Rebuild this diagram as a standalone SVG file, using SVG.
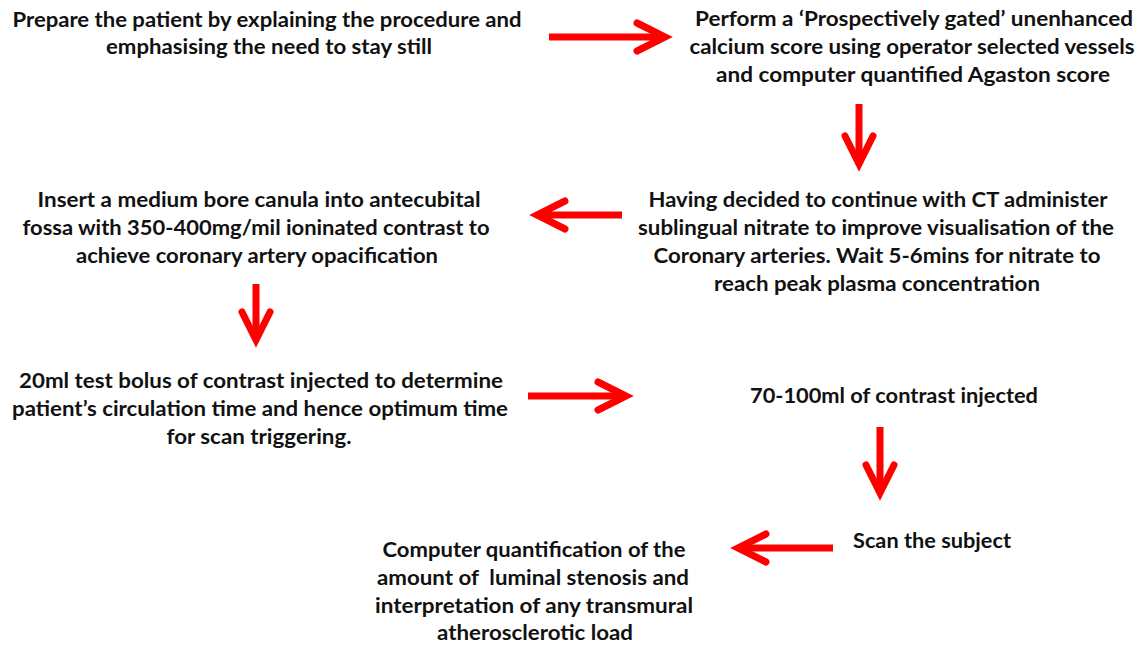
<svg xmlns="http://www.w3.org/2000/svg" width="1141" height="649" viewBox="0 0 1141 649">
  <style>
    text { font-family: Lato, "Liberation Sans", sans-serif; font-weight: bold; font-size: 20px; fill: #111; text-anchor: middle; }
    .shaft { fill: none; stroke: #ff0000; stroke-width: 7; stroke-linecap: butt; }
    .head { fill: none; stroke: #ff0000; stroke-width: 7; stroke-linecap: round; stroke-linejoin: miter; stroke-miterlimit: 10; }
  </style>
  <rect width="1141" height="649" fill="#ffffff"/>

  <!-- step nodes -->
  <g id="prepare">
    <text x="267" y="27" textLength="509" lengthAdjust="spacingAndGlyphs">Prepare the patient by explaining the procedure and</text>
    <text x="269" y="54" textLength="326" lengthAdjust="spacingAndGlyphs">emphasising the need to stay still</text>
  </g>
  <g id="calcium-score">
    <text x="914" y="26" textLength="438" lengthAdjust="spacingAndGlyphs">Perform a ‘Prospectively gated’ unenhanced</text>
    <text x="912" y="54" textLength="445" lengthAdjust="spacingAndGlyphs">calcium score using operator selected vessels</text>
    <text x="913" y="82" textLength="394" lengthAdjust="spacingAndGlyphs">and computer quantified Agaston score</text>
  </g>
  <g id="nitrate">
    <text x="878" y="207" textLength="459" lengthAdjust="spacingAndGlyphs">Having decided to continue with CT administer</text>
    <text x="876" y="235" textLength="476" lengthAdjust="spacingAndGlyphs">sublingual nitrate to improve visualisation of the</text>
    <text x="877" y="263" textLength="447" lengthAdjust="spacingAndGlyphs">Coronary arteries. Wait 5-6mins for nitrate to</text>
    <text x="877" y="291" textLength="326" lengthAdjust="spacingAndGlyphs">reach peak plasma concentration</text>
  </g>
  <g id="canula">
    <text x="259" y="207" textLength="443" lengthAdjust="spacingAndGlyphs">Insert a medium bore canula into antecubital</text>
    <text x="256" y="235" textLength="467" lengthAdjust="spacingAndGlyphs">fossa with 350-400mg/mil ioninated contrast to</text>
    <text x="257" y="263" textLength="362" lengthAdjust="spacingAndGlyphs">achieve coronary artery opacification</text>
  </g>
  <g id="test-bolus">
    <text x="261" y="388" textLength="484" lengthAdjust="spacingAndGlyphs">20ml test bolus of contrast injected to determine</text>
    <text x="260" y="416" textLength="496" lengthAdjust="spacingAndGlyphs">patient’s circulation time and hence optimum time</text>
    <text x="259" y="444" textLength="185" lengthAdjust="spacingAndGlyphs">for scan triggering.</text>
  </g>
  <g id="contrast">
    <text x="894" y="403" textLength="288" lengthAdjust="spacingAndGlyphs">70-100ml of contrast injected</text>
  </g>
  <g id="scan">
    <text x="932" y="548" textLength="158" lengthAdjust="spacingAndGlyphs">Scan the subject</text>
  </g>
  <g id="quantification">
    <text x="534" y="557" textLength="303" lengthAdjust="spacingAndGlyphs">Computer quantification of the</text>
    <text x="533" y="585" textLength="312" lengthAdjust="spacingAndGlyphs" xml:space="preserve">amount of  luminal stenosis and</text>
    <text x="534" y="613" textLength="318" lengthAdjust="spacingAndGlyphs">interpretation of any transmural</text>
    <text x="535" y="640" textLength="196" lengthAdjust="spacingAndGlyphs">atherosclerotic load</text>
  </g>

  <!-- connectors -->
  <g id="connectors">
    <path class="shaft" d="M549 37 H664"/>
    <path class="head" d="M637 23 L665 37 L637 51"/>

    <path class="shaft" d="M859 104 V163"/>
    <path class="head" d="M845 136 L859 164 L873 136"/>

    <path class="shaft" d="M622 215 H538"/>
    <path class="head" d="M565 201 L537 215 L565 229"/>

    <path class="shaft" d="M256 284 V339"/>
    <path class="head" d="M242 312 L256 340 L270 312"/>

    <path class="shaft" d="M528 396 H625"/>
    <path class="head" d="M598 382 L626 396 L598 410"/>

    <path class="shaft" d="M880 427 V492"/>
    <path class="head" d="M866 465 L880 493 L894 465"/>

    <path class="shaft" d="M833 548 H739"/>
    <path class="head" d="M766 534 L738 548 L766 562"/>
  </g>
</svg>
